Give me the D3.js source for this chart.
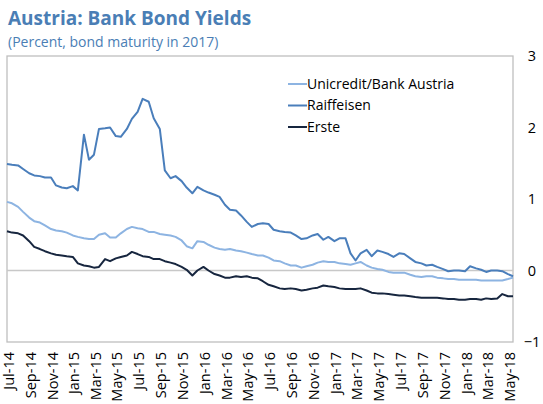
<!DOCTYPE html>
<html>
<head>
<meta charset="utf-8">
<script src="https://cdn.jsdelivr.net/npm/d3@7"></script>
<style>
  body { margin: 0; background: #fff; }
  #chart { width: 543px; height: 404px; }
  text { font-family: "Open Sans", "Noto Sans", sans-serif; }
</style>
</head>
<body>
<div id="chart"></div>
<script>
// series names, same order as the legend
const seriesNames = ["Unicredit/Bank Austria", "Raiffeisen", "Erste"];

// x-axis tick labels (every second month)
const tickLabels = ["Jul-14","Sep-14","Nov-14","Jan-15","Mar-15","May-15","Jul-15","Sep-15","Nov-15",
  "Jan-16","Mar-16","May-16","Jul-16","Sep-16","Nov-16","Jan-17","Mar-17","May-17","Jul-17",
  "Sep-17","Nov-17","Jan-18","Mar-18","May-18"];

// y-axis ticks
const yTicks = [-1, 0, 1, 2, 3];

// observation dates: 1st and 15th of each month, Jul 2014 - May 2018
const parseDate = d3.timeParse("%Y-%m-%d");
const months = d3.timeMonth.range(parseDate("2014-07-01"), parseDate("2018-06-01"));
const dates = [];
months.forEach(function (m) {
  dates.push(m);
  dates.push(new Date(m.getFullYear(), m.getMonth(), 15));
});

// yields, percent
const unicredit = [0.96,0.94,0.89,0.82,0.74,0.69,0.67,0.63,0.58,0.56,0.55,0.53,0.49,0.47,0.45,0.44,
  0.44,0.50,0.52,0.46,0.46,0.52,0.58,0.61,0.59,0.58,0.54,0.54,0.51,0.50,0.49,0.47,0.42,0.34,0.31,0.41,
  0.40,0.36,0.32,0.30,0.29,0.30,0.28,0.27,0.25,0.23,0.21,0.21,0.18,0.14,0.13,0.10,0.07,0.07,0.04,0.06,
  0.08,0.11,0.13,0.12,0.12,0.10,0.09,0.08,0.10,0.12,0.07,0.04,0.02,0.01,-0.02,-0.03,-0.03,-0.03,-0.06,
  -0.08,-0.09,-0.08,-0.08,-0.10,-0.11,-0.12,-0.12,-0.13,-0.13,-0.13,-0.13,-0.14,-0.14,-0.14,-0.14,
  -0.14,-0.12,-0.10];

const raiffeisen = [1.49,1.48,1.47,1.42,1.36,1.33,1.32,1.30,1.30,1.19,1.16,1.15,1.18,1.12,1.90,1.55,
  1.62,1.98,1.99,2.00,1.88,1.87,1.98,2.12,2.22,2.40,2.36,2.13,1.98,1.40,1.29,1.32,1.25,1.16,1.08,1.17,
  1.12,1.09,1.06,1.03,0.92,0.85,0.84,0.77,0.68,0.61,0.65,0.66,0.65,0.57,0.55,0.54,0.53,0.49,0.44,0.45,
  0.49,0.51,0.43,0.47,0.41,0.45,0.45,0.24,0.14,0.24,0.29,0.20,0.28,0.26,0.23,0.19,0.24,0.23,0.17,0.12,
  0.10,0.07,0.08,0.05,0.02,-0.01,0.00,0.00,-0.01,0.06,0.03,0.01,-0.02,0.00,0.00,-0.01,-0.05,-0.08];

const erste = [0.55,0.53,0.52,0.49,0.41,0.33,0.30,0.27,0.24,0.22,0.21,0.20,0.19,0.10,0.07,0.06,0.04,
  0.05,0.16,0.13,0.17,0.19,0.21,0.26,0.23,0.20,0.19,0.16,0.16,0.13,0.11,0.09,0.05,0.01,-0.07,0.00,0.05,
  0.00,-0.05,-0.07,-0.10,-0.10,-0.08,-0.09,-0.08,-0.10,-0.11,-0.15,-0.20,-0.22,-0.25,-0.26,-0.25,-0.26,
  -0.28,-0.27,-0.25,-0.24,-0.21,-0.22,-0.23,-0.25,-0.26,-0.26,-0.26,-0.25,-0.28,-0.31,-0.32,-0.32,
  -0.33,-0.34,-0.35,-0.35,-0.36,-0.37,-0.38,-0.38,-0.38,-0.38,-0.39,-0.40,-0.40,-0.41,-0.41,-0.40,
  -0.40,-0.41,-0.39,-0.40,-0.39,-0.33,-0.36,-0.36];

const colors = ["#8db4e2", "#4a7ebb", "#17263f"];

const width = 543, height = 404;
const plot = { left: 7, right: 513, top: 56, bottom: 342 };

const svg = d3.select("#chart").append("svg")
  .attr("width", width)
  .attr("height", height);

svg.append("text")
  .attr("x", 8).attr("y", 25)
  .attr("fill", "#4a7eb5")
  .style("font-size", "19px")
  .style("font-weight", "bold")
  .text("Austria: Bank Bond Yields");

svg.append("text")
  .attr("x", 8).attr("y", 47)
  .attr("fill", "#4a7eb5")
  .style("font-size", "14px")
  .text("(Percent, bond maturity in 2017)");

const xScale = d3.scaleTime()
  .domain([parseDate("2014-07-01"), parseDate("2018-05-15")])
  .range([plot.left, plot.right]);

const yScale = d3.scaleLinear()
  .domain([-1, 3])
  .range([plot.bottom, plot.top]);

// plot frame
svg.append("rect")
  .attr("x", plot.left).attr("y", plot.top)
  .attr("width", plot.right - plot.left)
  .attr("height", plot.bottom - plot.top)
  .attr("fill", "none")
  .attr("stroke", "#bfbfbf")
  .attr("stroke-width", 1.3);

// zero line
svg.append("line")
  .attr("x1", plot.left).attr("x2", plot.right)
  .attr("y1", yScale(0)).attr("y2", yScale(0))
  .attr("stroke", "#c8c8c8")
  .attr("stroke-width", 1.3);

// y axis on the right, labels only
const yAxis = d3.axisRight(yScale)
  .tickValues(yTicks)
  .tickSize(0)
  .tickPadding(0)
  .tickFormat(d3.format("d"));

svg.append("g")
  .attr("class", "y axis")
  .attr("transform", "translate(" + 532 + ",0)")
  .call(yAxis)
  .call(function (g) { g.select(".domain").remove(); })
  .selectAll("text")
  .attr("text-anchor", "middle")
  .attr("fill", "#000")
  .style("font-size", "14.5px")
  .style("font-family", "'Open Sans', 'Noto Sans', sans-serif");

// x axis, rotated labels
const tickDates = tickLabels.map(function (s) { return d3.timeParse("%b-%y")(s); });
const xAxis = d3.axisBottom(xScale)
  .tickValues(tickDates)
  .tickSize(0)
  .tickPadding(0)
  .tickFormat(d3.timeFormat("%b-%y"));

svg.append("g")
  .attr("class", "x axis")
  .attr("transform", "translate(0," + (plot.bottom + 10) + ")")
  .call(xAxis)
  .call(function (g) { g.select(".domain").remove(); })
  .selectAll("text")
  .attr("transform", "rotate(-90)")
  .attr("x", 0).attr("y", 0)
  .attr("dy", "0.42em")
  .attr("text-anchor", "end")
  .attr("fill", "#000")
  .style("font-size", "14.5px")
  .style("font-family", "'Open Sans', 'Noto Sans', sans-serif");

const line = d3.line()
  .x(function (d) { return xScale(d.date); })
  .y(function (d) { return yScale(d.value); });

const allSeries = [unicredit, raiffeisen, erste];
allSeries.forEach(function (vals, i) {
  const pts = vals.map(function (v, j) { return { date: dates[j], value: v }; });
  svg.append("path")
    .datum(pts)
    .attr("fill", "none")
    .attr("stroke", colors[i])
    .attr("stroke-width", 2)
    .attr("stroke-linejoin", "round")
    .attr("d", line);
});

// legend
const legend = svg.append("g").attr("class", "legend");
seriesNames.forEach(function (name, i) {
  const y = 84 + i * 21.5;
  legend.append("line")
    .attr("x1", 288).attr("x2", 307)
    .attr("y1", y).attr("y2", y)
    .attr("stroke", colors[i])
    .attr("stroke-width", 2);
  legend.append("text")
    .attr("x", 307).attr("y", y)
    .attr("dy", "0.35em")
    .attr("fill", "#000")
    .style("font-size", "14px")
    .text(name);
});
</script>
</body>
</html>
